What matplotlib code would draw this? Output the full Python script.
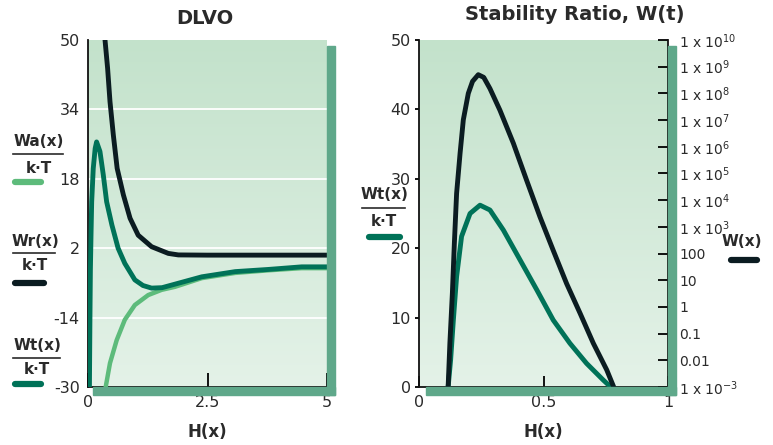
import matplotlib
matplotlib.use("Agg")
import matplotlib.pyplot as plt
from matplotlib.patches import Rectangle
from matplotlib.lines import Line2D
import numpy as np

plt.rcParams['font.family'] = ['DejaVu Sans']
plt.rcParams['axes.unicode_minus'] = False
plt.rcParams['lines.solid_joinstyle'] = 'round'

W, H = 773, 445

# ---- DLVO panel data ----
wr_x = [0.356, 0.41, 0.46, 0.53, 0.61, 0.74, 0.88, 1.05, 1.33, 1.68, 1.89, 2.5, 3.5, 5.0]
wr_y = [50, 43.5, 35.8, 28.1, 20.4, 14.3, 8.9, 5.0, 2.35, 0.8, 0.45, 0.4, 0.4, 0.4]

wt_x = [0.03, 0.04, 0.05, 0.063, 0.077, 0.11, 0.15, 0.18, 0.25, 0.32, 0.39, 0.50, 0.63, 0.77,
        0.98, 1.15, 1.33, 1.55, 1.75, 2.38, 3.08, 3.77, 4.47, 5.0]
wt_y = [-30, -15, -3, 5.0, 12.7, 20.4, 25.0, 26.5, 24.3, 18.9, 12.7, 7.35, 2.0, -1.5,
        -5.3, -6.6, -7.2, -7.1, -6.5, -4.6, -3.4, -2.9, -2.3, -2.3]

wa_x = [0.37, 0.46, 0.60, 0.77, 0.98, 1.26, 1.54, 1.82, 2.38, 3.08, 3.77, 4.47, 5.0]
wa_y = [-30, -24.5, -19.2, -14.5, -11.1, -8.8, -7.6, -6.9, -4.9, -3.7, -3.1, -2.6, -2.6]

dlvo_yticks = [-30, -14, 2, 18, 34, 50]
dlvo_xticks = [0, 2.5, 5]
dlvo_xlabels = ['0', '2.5', '5']

# ---- Stability ratio panel data ----
st_x = [0.117, 0.127, 0.138, 0.151, 0.171, 0.205, 0.245, 0.285, 0.339, 0.406, 0.473, 0.539,
        0.606, 0.673, 0.740, 0.77]
st_y = [0, 3.9, 9.65, 15.9, 21.7, 25.0, 26.2, 25.5, 22.6, 18.3, 14.0, 9.65, 6.3, 3.4, 1.0, 0]

# W(x) on the log axis, given as log10 values
w_x = [0.117, 0.124, 0.134, 0.142, 0.151, 0.165, 0.178, 0.198, 0.215, 0.238, 0.26, 0.285, 0.325,
       0.379, 0.432, 0.486, 0.539, 0.593, 0.647, 0.700, 0.754, 0.782]
w_log10 = [-3.0, -1.36, 0.51, 2.38, 4.25, 5.76, 7.01, 8.0, 8.45, 8.7, 8.6, 8.18, 7.37,
           6.13, 4.75, 3.37, 2.12, 0.87, -0.24, -1.36, -2.36, -3.0]

st_yticks = [0, 10, 20, 30, 40, 50]
st_xticks = [0, 0.5, 1]
st_xlabels = ['0', '0.5', '1']
w_ticks = [1e-3, 1e-2, 1e-1, 1, 10, 100, 1e3, 1e4, 1e5, 1e6, 1e7, 1e8, 1e9, 1e10]
w_labels = ['1 x 10$^{-3}$', '0.01', '0.1', '1', '10', '100', '1 x 10$^{3}$', '1 x 10$^{4}$',
            '1 x 10$^{5}$', '1 x 10$^{6}$', '1 x 10$^{7}$', '1 x 10$^{8}$', '1 x 10$^{9}$', '1 x 10$^{10}$']

BLACK = '#0b1c21'
DARKG = '#007258'
LIGHTG = '#5dbb7b'
SHADOW = '#5fa88a'
TXT = '#2a2a2a'


def fx(px):
    return px / W


def fy(py):
    return 1 - py / H


def box(px0, py0, px1, py1):
    return [fx(px0), fy(py1), fx(px1) - fx(px0), fy(py0) - fy(py1)]


fig = plt.figure(figsize=(W / 100, H / 100), dpi=100)

# drop shadows
for (x0, y0, x1, y1) in [(327, 46, 335, 395), (93, 387, 335, 395),
                         (668, 46, 676, 395), (426, 387, 676, 395)]:
    fig.patches.append(Rectangle((fx(x0), fy(y1)), fx(x1) - fx(x0), fy(y0) - fy(y1),
                                 transform=fig.transFigure, color=SHADOW, zorder=0))

grad = np.linspace(0, 1, 256).reshape(-1, 1)
cmap = matplotlib.colors.LinearSegmentedColormap.from_list('bg', ['#c3e2cb', '#e4f2e8'])


def setup(ax):
    ax.imshow(grad, extent=[0, 1, 0, 1], transform=ax.transAxes, cmap=cmap,
              aspect='auto', zorder=0, origin='upper')
    ax.set_facecolor('none')
    for s in ['top', 'right']:
        ax.spines[s].set_visible(False)
    for s in ['left', 'bottom']:
        ax.spines[s].set_linewidth(1.3)
        ax.spines[s].set_color('#111111')


# ---------------- DLVO ----------------
ax1 = fig.add_axes(box(88, 40, 327, 387))
setup(ax1)
for g in dlvo_yticks[1:-1]:
    ax1.axhline(g, color='white', lw=1.3, zorder=1)
ax1.plot(wa_x, wa_y, color=LIGHTG, lw=3.2, zorder=3)
ax1.plot(wt_x, wt_y, color=DARKG, lw=3.5, zorder=4)
ax1.plot(wr_x, wr_y, color=BLACK, lw=3.5, zorder=5)
ax1.set_xlim(0, 5)
ax1.set_ylim(-30, 50)
ax1.set_xticks(dlvo_xticks)
ax1.set_xticklabels(dlvo_xlabels)
ax1.set_yticks(dlvo_yticks)
ax1.tick_params(axis='x', direction='in', length=10, width=1.3, pad=6, labelsize=11.5, labelcolor=TXT)
ax1.tick_params(axis='y', length=0, pad=6, labelsize=11.5, labelcolor=TXT)
ax1.set_xlabel('H(x)', fontsize=12, fontweight='bold', color=TXT, labelpad=9)
fig.text(fx(205), fy(18), 'DLVO', ha='center', va='center', fontsize=14, fontweight='bold', color=TXT)

# ---------------- Stability ratio ----------------
ax2 = fig.add_axes(box(419, 40, 668, 387))
setup(ax2)
ax2.plot(st_x, st_y, color=DARKG, lw=3.5, zorder=4, clip_on=False)
ax2.set_xlim(0, 1)
ax2.set_ylim(0, 50)
ax2.set_xticks(st_xticks)
ax2.set_xticklabels(st_xlabels)
ax2.set_yticks(st_yticks)
ax2.tick_params(axis='x', direction='in', length=8, width=1.3, pad=6, labelsize=11.5, labelcolor=TXT)
ax2.tick_params(axis='y', direction='out', length=3, width=1.3, pad=3, labelsize=11.5, labelcolor=TXT)
ax2.set_xlabel('H(x)', fontsize=12, fontweight='bold', color=TXT, labelpad=9)

ax3 = ax2.twinx()
ax3.set_yscale('log')
ax3.plot(w_x, [10 ** v for v in w_log10], color=BLACK, lw=3.5, zorder=5, clip_on=False)
ax3.set_ylim(1e-3, 1e10)
ax3.set_yticks(w_ticks)
ax3.set_yticklabels(w_labels)
ax3.yaxis.set_minor_locator(matplotlib.ticker.NullLocator())
for s in ['top', 'left', 'bottom']:
    ax3.spines[s].set_visible(False)
ax3.spines['right'].set_linewidth(1.3)
ax3.spines['right'].set_color('#111111')
ax3.tick_params(axis='y', direction='in', length=7, width=1.3, pad=8, labelsize=10, labelcolor=TXT)
fig.text(fx(575), fy(15), 'Stability Ratio, W(t)', ha='center', va='center',
         fontsize=14, fontweight='bold', color=TXT)


# ---------------- legend-like labels ----------------
def frac_label(cx, ytop, yline, ybot, x0, x1, num, lx0, lx1, ly, color):
    fig.text(fx(cx), fy(ytop), num, ha='center', va='center', fontsize=11, fontweight='bold', color=TXT)
    fig.add_artist(Line2D([fx(x0), fx(x1)], [fy(yline), fy(yline)], color=TXT, lw=1.2))
    fig.text(fx(cx), fy(ybot), 'k·T', ha='center', va='center', fontsize=11, fontweight='bold', color=TXT)
    fig.add_artist(Line2D([fx(lx0), fx(lx1)], [fy(ly), fy(ly)], color=color, lw=4.5,
                          solid_capstyle='round'))


frac_label(39, 141, 154, 168, 13, 63, 'Wa(x)', 15, 41, 182, LIGHTG)
frac_label(35, 241, 253, 266, 13, 55, 'Wr(x)', 15, 44, 283, BLACK)
frac_label(37, 345, 358, 369, 13, 60, 'Wt(x)', 15, 41, 384, DARKG)
frac_label(384, 195, 208, 221, 362, 405, 'Wt(x)', 369, 400, 237, DARKG)

fig.text(fx(742), fy(242), 'W(x)', ha='center', va='center', fontsize=11, fontweight='bold', color=TXT)
fig.add_artist(Line2D([fx(731), fx(757)], [fy(260), fy(260)], color=BLACK, lw=4.5, solid_capstyle='round'))

fig.savefig('out.png', dpi=100)
